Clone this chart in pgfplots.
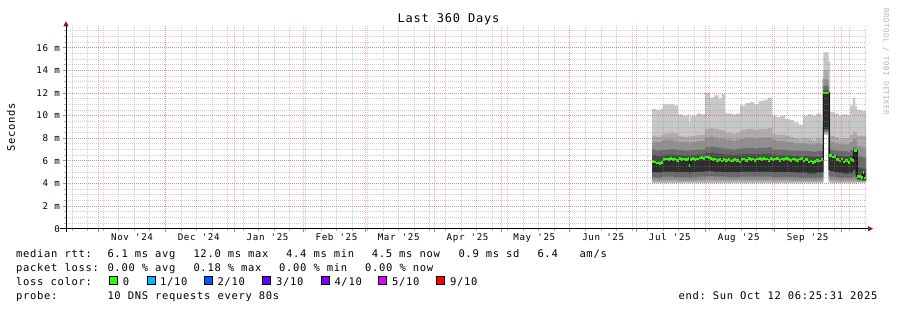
\documentclass[border=0pt]{standalone}
\usepackage{pgfplots}
\pgfplotsset{compat=1.18}
\usepackage{pgfplotstable}
\usepgfplotslibrary{fillbetween}
\usetikzlibrary{arrows.meta}
\usepackage{fontspec}
\setmonofont{DejaVu Sans Mono}[LetterSpace=6.5]
\newcommand\rf[1]{\ttfamily\fontsize{#1}{#1}\selectfont}
\definecolor{lc0}{HTML}{26FF00}
\definecolor{lc1}{HTML}{00B8FF}
\definecolor{lc2}{HTML}{0059FF}
\definecolor{lc3}{HTML}{5E00FF}
\definecolor{lc4}{HTML}{7E00FF}
\definecolor{lc5}{HTML}{DD00FF}
\definecolor{lc9}{HTML}{FF0000}
\definecolor{gridred}{HTML}{FF0000}
\definecolor{gridgray}{HTML}{8C8C8C}
\definecolor{arrowred}{HTML}{8B1A1A}
\definecolor{sA}{HTML}{C8C8C8}
\definecolor{sB}{HTML}{ACACAC}
\definecolor{sC}{HTML}{909090}
\definecolor{sD}{HTML}{6A6A6A}
\definecolor{sE}{HTML}{4A4A4A}
\definecolor{sF}{HTML}{2D2D2D}
\definecolor{rrdgray}{HTML}{B4B4B4}

\pgfplotstableread{
d     u1   u2   u3   u4   u5   l5   l4   l3   l2   l1
263.7 10.6 8.2  7.65 7.0  6.5  5.0  4.55 4.3  4.1  4.0
265.7 10.5 8.1  7.65 6.9  6.45 4.95 4.5  4.25 4.1  4.0
267.7 10.6 8.3  7.75 7.0  6.5  5.0  4.55 4.3  4.1  4.0
268.7 11.0 8.4  7.85 7.0  6.55 5.05 4.6  4.3  4.1  4.0
271.7 11.0 8.5  7.85 7.05 6.55 5.05 4.6  4.3  4.1  4.0
273.7 10.9 8.4  7.75 7.0  6.5  5.0  4.55 4.3  4.1  4.0
275.4 10.1 8.2  7.65 6.95 6.5  5.0  4.55 4.25 4.1  4.0
277.7 10.0 8.1  7.65 6.9  6.45 5.0  4.55 4.25 4.1  4.0
279.7 10.1 8.2  7.65 6.95 6.5  5.0  4.55 4.25 4.1  4.0
280.5 9.4  8.0  7.45 6.8  6.4  4.9  4.5  4.25 4.1  4.0
281.0 10.0 8.2  7.65 6.95 6.5  5.0  4.55 4.25 4.1  4.0
283.9 10.2 8.3  7.75 7.0  6.55 5.05 4.6  4.3  4.1  4.0
285.7 10.1 8.3  7.75 7.0  6.55 5.05 4.6  4.3  4.1  4.0
287.6 12.0 8.8  8.05 7.2  6.7  5.1  4.65 4.35 4.1  4.0
289.7 11.6 8.9  8.15 7.25 6.7  5.1  4.65 4.35 4.1  4.0
291.7 11.8 8.8  8.05 7.2  6.65 5.05 4.6  4.3  4.1  4.0
293.7 11.5 8.7  7.95 7.15 6.6  5.05 4.6  4.3  4.1  4.0
295.0 11.9 8.7  7.95 7.1  6.6  5.0  4.6  4.3  4.1  4.0
296.6 10.2 8.5  7.85 7.05 6.55 5.0  4.55 4.3  4.1  4.0
299.7 10.1 8.4  7.75 7.0  6.5  5.0  4.55 4.3  4.1  4.0
301.7 10.2 8.5  7.85 7.05 6.55 5.0  4.55 4.3  4.1  4.0
303.3 10.9 8.7  7.95 7.1  6.6  5.05 4.6  4.3  4.1  4.0
305.7 11.1 8.8  8.05 7.15 6.6  5.05 4.6  4.3  4.1  4.0
307.7 11.2 8.8  8.05 7.15 6.6  5.05 4.6  4.3  4.1  4.0
309.7 11.0 8.7  7.95 7.1  6.6  5.05 4.6  4.3  4.1  4.0
311.7 11.3 8.8  8.05 7.15 6.6  5.05 4.6  4.3  4.1  4.0
313.7 11.4 8.8  8.05 7.15 6.6  5.05 4.6  4.3  4.1  4.0
315.7 11.6 8.9  8.05 7.2  6.65 5.05 4.6  4.3  4.1  4.0
317.7 10.0 8.4  7.85 7.0  6.55 5.0  4.55 4.3  4.1  4.0
319.7 9.9  8.3  7.75 7.0  6.5  5.0  4.55 4.3  4.1  4.0
321.7 10.0 8.3  7.75 7.0  6.5  5.0  4.55 4.3  4.1  4.0
323.7 9.7  8.2  7.65 6.95 6.5  5.0  4.55 4.3  4.1  4.0
325.7 9.6  8.1  7.65 6.9  6.45 5.0  4.55 4.25 4.1  4.0
327.7 9.4  8.0  7.55 6.9  6.45 4.95 4.55 4.25 4.1  4.0
329.7 9.2  7.9  7.55 6.85 6.4  4.95 4.5  4.25 4.1  4.0
331.7 10.0 8.0  7.55 6.9  6.45 4.95 4.5  4.25 4.1  4.0
333.7 10.1 7.9  7.45 6.85 6.4  4.9  4.5  4.25 4.1  4.0
335.7 10.0 7.8  7.45 6.8  6.35 4.9  4.5  4.25 4.1  4.0
337.7 10.2 8.0  7.55 6.85 6.4  4.95 4.5  4.25 4.1  4.0
339.7 10.0 7.9  7.45 6.85 6.4  4.95 4.5  4.25 4.1  4.0
340.2 13.3 9.5  8.3  7.4  6.8  5.0  4.55 4.3  4.1  4.0
340.8 15.6 14.0 13.2 12.6 12.2 8.8  8.6  8.5  8.4  8.3
343.2 14.8 12.0 9.5  8.0  7.2  5.2  4.7  4.45 4.2  4.1
343.8 10.3 8.2  7.65 7.0  6.6  5.1  4.6  4.3  4.1  4.0
345.7 10.2 8.1  7.55 6.9  6.5  5.0  4.55 4.3  4.1  4.0
347.7 10.0 7.9  7.45 6.85 6.45 4.95 4.5  4.25 4.1  4.0
349.7 10.1 8.0  7.45 6.85 6.4  4.9  4.5  4.25 4.1  4.0
351.7 10.0 7.9  7.45 6.8  6.4  4.9  4.5  4.25 4.1  4.0
352.8 10.9 8.3  7.65 6.95 6.5  4.95 4.5  4.25 4.1  4.0
354.2 11.6 8.6  7.95 7.2  6.8  5.2  4.6  4.3  4.1  4.0
355.2 10.8 8.5  7.85 7.1  6.5  4.8  4.45 4.25 4.1  4.0
356.0 10.5 8.2  7.3  6.4  5.4  4.4  4.3  4.2  4.15 4.05
358.2 10.4 8.2  7.2  6.3  5.3  4.35 4.25 4.2  4.15 4.05
360.0 10.4 8.2  7.2  6.3  5.3  4.35 4.25 4.2  4.15 4.05
}\bands

\pgfplotstableread{
d     m
263.7 5.95
264.7 5.9
265.7 5.8
266.7 5.75
267.7 5.85
268.7 6.1
269.7 6.15
270.7 6.1
271.7 6.2
272.7 6.1
273.7 6.15
274.7 6.05
275.7 6.2
276.7 6.1
277.7 6.15
278.7 6.1
279.7 6.2
280.5 5.6
281.0 6.1
281.7 6.2
282.7 6.1
283.7 6.15
284.7 6.25
285.7 6.3
286.7 6.2
287.7 6.35
288.7 6.3
289.7 6.2
290.7 6.1
291.7 6.15
292.7 6.05
293.7 6.1
294.7 6.0
295.7 6.1
296.7 6.05
297.7 6.1
298.7 6.0
299.7 6.05
300.7 6.1
301.7 6.05
302.7 5.9
303.7 6.1
304.7 6.15
305.7 6.05
306.7 6.2
307.7 6.1
308.7 6.15
309.7 6.05
310.7 6.15
311.7 6.2
312.7 6.1
313.7 6.2
314.7 6.15
315.7 6.05
316.7 6.2
317.7 6.1
318.7 6.15
319.7 6.2
320.7 6.05
321.7 6.15
322.7 6.1
323.7 6.2
324.7 6.1
325.7 6.05
326.7 6.15
327.7 6.1
328.7 6.05
329.7 6.15
330.7 6.2
331.7 6.0
332.7 6.1
333.7 5.9
334.7 6.0
335.7 5.85
336.7 5.95
337.7 6.05
338.7 6.0
339.7 6.1
340.8 12.0
343.5 6.45
344.7 6.35
345.7 6.4
346.7 6.1
347.7 6.0
348.7 6.15
349.7 5.9
350.7 6.05
351.7 5.85
352.7 6.1
353.7 6.05
354.6 6.9
355.9 4.6
356.9 4.6
357.9 4.55
358.6 4.95
359.3 4.5
360.0 4.5
}\med

\begin{document}
\begin{tikzpicture}[x=1bp,y=1bp]
\begin{axis}[
  at={(66bp,81.3bp)}, anchor=south west,
  width=800bp, height=202.4bp, scale only axis,
  xmin=0, xmax=360, ymin=0, ymax=17.9,
  axis on top,
  axis lines=left,
  axis line style={draw=black, line width=0.8bp},
  x axis line style={-{Triangle[length=5bp,width=5bp,color=arrowred]}, shorten <=-6bp, shorten >=-7bp},
  y axis line style={-{Triangle[length=5bp,width=5bp,color=arrowred]}, shorten <=-3.5bp, shorten >=-5bp},
  xtick={14.73,44.73,75.73,106.73,134.73,165.73,195.73,226.73,256.73,287.73,318.73,348.73},
  xticklabels={},
  minor xtick={2.73,9.73,...,359.73},
  extra x ticks={29.73,59.73,90.73,121.73,149.73,180.73,210.73,241.73,271.73,302.73,333.73},
  extra x tick labels={Nov '24,Dec '24,Jan '25,Feb '25,Mar '25,Apr '25,May '25,Jun '25,Jul '25,Aug '25,Sep '25},
  extra x tick style={grid=none, major tick length=0pt},
  ytick={0,2,...,16},
  yticklabels={0,2 m,4 m,6 m,8 m,10 m,12 m,14 m,16 m},
  minor ytick={0.5,1,...,17.5},
  grid=both,
  major grid style={draw=gridred, draw opacity=0.3, dash pattern=on 1bp off 1bp, line width=0.8bp},
  minor grid style={draw=gridgray, draw opacity=0.42, dash pattern=on 1bp off 1bp, line width=0.8bp},
  tick align=outside,
  major tick length=3bp, minor tick length=2bp,
  major tick style={draw=red!60, line width=0.8bp},
  minor tick style={draw=gray!60, line width=0.8bp},
  tick label style={font=\rf{9.2bp}, text=black},
  yticklabel style={inner sep=0pt, anchor=east, xshift=-3bp},
  xticklabel style={inner sep=0pt, anchor=base, yshift=-12bp},
]
\addplot[draw=none, name path=u1, const plot mark left] table[x=d,y=u1]{\bands};
\addplot[draw=none, name path=u2, const plot mark left] table[x=d,y=u2]{\bands};
\addplot[draw=none, name path=u3, const plot mark left] table[x=d,y=u3]{\bands};
\addplot[draw=none, name path=u4, const plot mark left] table[x=d,y=u4]{\bands};
\addplot[draw=none, name path=u5, const plot mark left] table[x=d,y=u5]{\bands};
\addplot[draw=none, name path=l5, const plot mark left] table[x=d,y=l5]{\bands};
\addplot[draw=none, name path=l4, const plot mark left] table[x=d,y=l4]{\bands};
\addplot[draw=none, name path=l3, const plot mark left] table[x=d,y=l3]{\bands};
\addplot[draw=none, name path=l2, const plot mark left] table[x=d,y=l2]{\bands};
\addplot[draw=none, name path=l1, const plot mark left] table[x=d,y=l1]{\bands};
\addplot[draw=none, name path=md, const plot mark left] table[x=d,y=m]{\med};
\addplot[sA] fill between[of=u1 and l1];
\addplot[sB] fill between[of=u2 and l2];
\addplot[sC] fill between[of=u3 and l3];
\addplot[sD] fill between[of=u4 and l4];
\addplot[sE] fill between[of=u5 and l5];
\addplot[sF] fill between[of=md and l5];
\addplot[black!90, line width=1.2bp, const plot mark left] table[x=d,y=m]{\med};
\addplot[lc0, line width=2.6bp, jump mark left] table[x=d,y=m]{\med};
\addplot[lc1, line width=2.6bp] coordinates {(287.2,6.35) (287.7,6.35)};
\end{axis}

% title, axis label, side text
\node[font=\rf{12bp}] at (448.5,291) {Last 360 Days};
\node[font=\rf{10.5bp}, rotate=90] at (11,183) {Seconds};
\node[font=\rf{7.4bp}, text=rrdgray, rotate=-90, anchor=west] at (886,305) {RRDTOOL / TOBI OETIKER};

% legend lines
\begin{scope}[every node/.style={font=\rf{10.5bp}, anchor=base west, inner sep=0pt}]
\node at (16,52.5) {median rtt:};
\node at (107.3,52.5) {6.1 ms avg};
\node at (193.3,52.5) {12.0 ms max};
\node at (286,52.5) {4.4 ms min};
\node at (371.7,52.5) {4.5 ms now};
\node at (458.3,52.5) {0.9 ms sd};
\node at (537.3,52.5) {6.4};
\node at (579.3,52.5) {am/s};
\node at (16,38.5) {packet loss:};
\node at (107.3,38.5) {0.00 \% avg};
\node at (193.3,38.5) {0.18 \% max};
\node at (279,38.5) {0.00 \% min};
\node at (365,38.5) {0.00 \% now};
\node at (16,24.5) {loss color:};
\node at (122.7,24.5) {0};
\node at (160,24.5) {1/10};
\node at (217.3,24.5) {2/10};
\node at (276,24.5) {3/10};
\node at (334.3,24.5) {4/10};
\node at (392,24.5) {5/10};
\node at (450,24.5) {9/10};
\node at (16,10.5) {probe:};
\node at (107.3,10.5) {10 DNS requests every 80s};
\node at (678.3,10.5) {end: Sun Oct 12 06:25:31 2025};
\end{scope}
\begin{scope}[every node/.style={draw=black, line width=0.8bp, minimum size=8bp, inner sep=0pt, anchor=south west}]
\node[fill=lc0] at (108.8,24.8) {};
\node[fill=lc1] at (146.5,24.8) {};
\node[fill=lc2] at (203.8,24.8) {};
\node[fill=lc3] at (262.2,24.8) {};
\node[fill=lc4] at (320.5,24.8) {};
\node[fill=lc5] at (378.2,24.8) {};
\node[fill=lc9] at (436.2,24.8) {};
\end{scope}
\pgfresetboundingbox
\useasboundingbox (0,0) rectangle (897,310);
\end{tikzpicture}
\end{document}
